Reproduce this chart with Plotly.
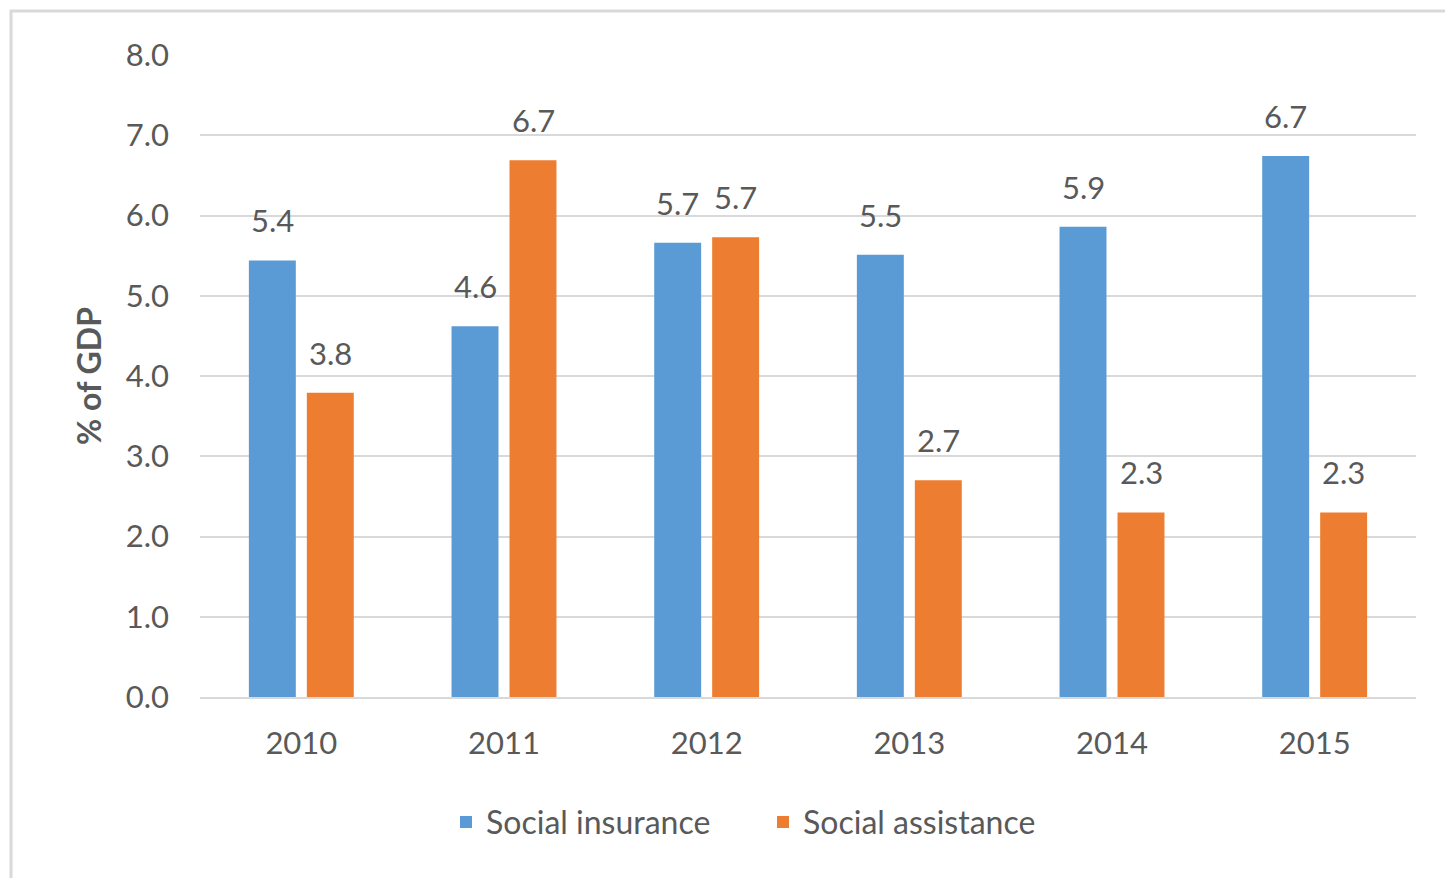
import plotly.graph_objects as go

years = ["2010", "2011", "2012", "2013", "2014", "2015"]
social_insurance = [5.44, 4.62, 5.66, 5.51, 5.86, 6.74]
social_assistance = [3.79, 6.69, 5.73, 2.70, 2.30, 2.30]
y_ticks = [0, 1, 2, 3, 4, 5, 6, 7, 8]

FONT = "Lato"
GREY = "#595959"
BLUE = "#5B9BD5"
ORANGE = "#ED7D31"

fig = go.Figure()
fig.add_trace(go.Bar(x=years, y=social_insurance, name="Social insurance",
                     marker=dict(color=BLUE, line=dict(width=0))))
fig.add_trace(go.Bar(x=years, y=social_assistance, name="Social assistance",
                     marker=dict(color=ORANGE, line=dict(width=0))))

annotations = []
for series, shift in ((social_insurance, -29), (social_assistance, 29)):
    for i, v in enumerate(series):
        annotations.append(dict(x=i, y=v, xref="x", yref="y", text=f"{v:.1f}",
                                showarrow=False, xshift=shift, yshift=40,
                                font=dict(family=FONT, size=31, color=GREY)))

fig.update_layout(
    width=1453, height=878,
    margin=dict(l=192, r=45, t=47, b=189),
    paper_bgcolor="white", plot_bgcolor="white",
    barmode="group", bargap=0.428, bargroupgap=0.19,
    font=dict(family=FONT, size=31, color=GREY),
    showlegend=True,
    legend=dict(orientation="h", x=0.463, xanchor="center", y=-0.195, yanchor="middle",
                entrywidth=272, entrywidthmode="pixels",
                font=dict(family=FONT, size=32, color=GREY), itemsizing="constant"),
    annotations=annotations,
    shapes=[dict(type="rect", xref="paper", yref="paper",
                 x0=-0.1554, x1=1.1, y0=-0.4, y1=1.0685,
                 line=dict(color="#D9D9D9", width=3), layer="below")],
)
fig.update_xaxes(type="category", range=[-0.5, len(years) - 0.5], automargin=False,
                 showgrid=False, showline=True,
                 linecolor="#D9D9D9", linewidth=2, ticks="", ticklabelstandoff=18,
                 tickfont=dict(family=FONT, size=31, color=GREY))
fig.update_yaxes(range=[0, 8], tickvals=y_ticks, tickformat=".1f", automargin=False,
                 showgrid=True, gridcolor="#D9D9D9", gridwidth=1.5,
                 zeroline=False, showline=False, ticks="", ticklabelstandoff=30,
                 tickfont=dict(family=FONT, size=31, color=GREY),
                 title=dict(text="<b>% of GDP</b>", standoff=14,
                            font=dict(family=FONT, size=32, color=GREY)))

fig.write_html("out.html")
